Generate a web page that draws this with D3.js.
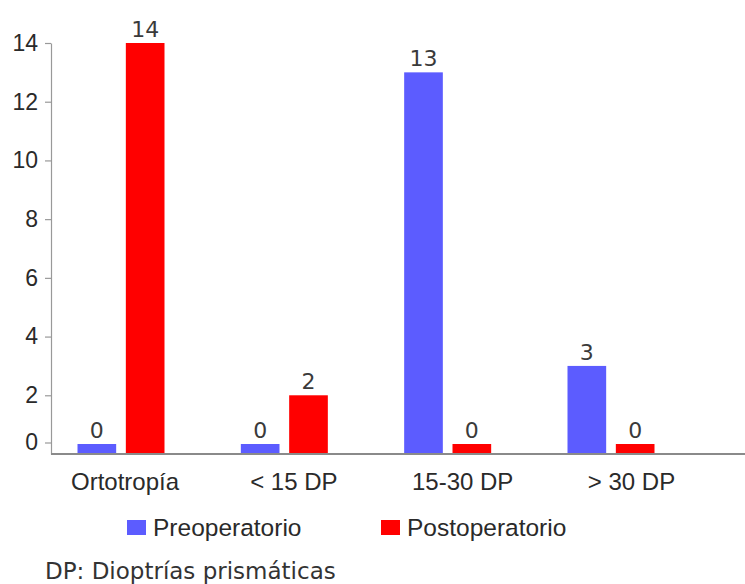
<!DOCTYPE html>
<html>
<head>
<meta charset="utf-8">
<script src="https://cdn.jsdelivr.net/npm/d3@7"></script>
<style>
  html, body { margin: 0; padding: 0; background: #fff; }
  svg { display: block; }
</style>
</head>
<body>
<svg id="chart" width="745" height="584"></svg>
<script>
// ---- data ----
const categories = ["Ortotropía", "< 15 DP", "15-30 DP", "> 30 DP"];
const seriesNames = ["Preoperatorio", "Postoperatorio"];
const preoperatorio = [0, 0, 13, 3];
const postoperatorio = [14, 2, 0, 0];
const yTicks = [0, 2, 4, 6, 8, 10, 12, 14];
const footnote = "DP: Dioptrías prismáticas";

const colors = { "Preoperatorio": "#5c5cff", "Postoperatorio": "#ff0000" };
const seriesValues = { "Preoperatorio": preoperatorio, "Postoperatorio": postoperatorio };

const svg = d3.select("#chart");

const y = d3.scaleLinear().domain([0, 14]).range([454, 43]);
const axisX = 51;
const minBarH = 10;   // zero-valued bars are drawn with a small stub
const zeroTickShift = -11;

const xGroup = d3.scalePoint().domain(categories).range([121, 611]);
const xLabel = d3.scalePoint().domain(categories).range([125, 631.5]);
const xSeries = d3.scaleBand().domain(seriesNames).range([-43.5, 43.5]).paddingInner(0.2);

// y axis
const yAxis = d3.axisLeft(y).tickValues(yTicks).tickSize(6).tickSizeOuter(0).tickFormat(d3.format("d"));
const gy = svg.append("g").attr("transform", `translate(${axisX},0)`).call(yAxis);
gy.select(".domain").attr("stroke", "#999").attr("stroke-width", 1.2);
gy.selectAll(".tick line").attr("stroke", "#999").attr("stroke-width", 1.2);
gy.selectAll(".tick text")
  .attr("x", -13)
  .attr("fill", "#2a2a2a")
  .style("font-family", "'Liberation Sans', Arial, sans-serif")
  .style("font-size", "23px");
gy.selectAll(".tick").filter(d => d === 0)
  .attr("transform", `translate(0,${y(0) + zeroTickShift})`);

// x axis baseline
svg.append("line")
  .attr("x1", axisX).attr("x2", 745)
  .attr("y1", y(0)).attr("y2", y(0))
  .attr("stroke", "#8a8a8a").attr("stroke-width", 2);

// bars
const barData = [];
categories.forEach((c, i) => {
  seriesNames.forEach(s => barData.push({ cat: c, series: s, value: seriesValues[s][i] }));
});
const barTop = d => Math.min(y(d.value), y(0) - minBarH);

svg.append("g").selectAll("rect").data(barData).join("rect")
  .attr("x", d => xGroup(d.cat) + xSeries(d.series))
  .attr("width", xSeries.bandwidth())
  .attr("y", d => barTop(d))
  .attr("height", d => y(0) - 1 - barTop(d))
  .attr("fill", d => colors[d.series]);

// value labels
svg.append("g").selectAll("text").data(barData).join("text")
  .attr("x", d => xGroup(d.cat) + xSeries(d.series) + xSeries.bandwidth() / 2)
  .attr("y", d => barTop(d) - 6)
  .attr("text-anchor", "middle")
  .attr("fill", "#3a3a3a")
  .style("font-family", "'DejaVu Sans', Verdana, sans-serif")
  .style("font-size", "22px")
  .text(d => d.value);

// category labels
svg.append("g").selectAll("text").data(categories).join("text")
  .attr("x", d => xLabel(d))
  .attr("y", 490)
  .attr("text-anchor", "middle")
  .attr("fill", "#2a2a2a")
  .style("font-family", "'Liberation Sans', Arial, sans-serif")
  .style("font-size", "24px")
  .text(d => d);

// legend
const legendX = d3.scalePoint().domain(seriesNames).range([127, 381]);
const lg = svg.append("g").selectAll("g").data(seriesNames).join("g")
  .attr("transform", d => `translate(${legendX(d)},520)`);
lg.append("rect").attr("width", 19).attr("height", 15).attr("fill", d => colors[d]);
lg.append("text")
  .attr("x", 26).attr("y", 16)
  .attr("fill", "#2a2a2a")
  .style("font-family", "'Liberation Sans', Arial, sans-serif")
  .style("font-size", "24.5px")
  .text(d => d);

// footnote
svg.append("text")
  .attr("x", 45).attr("y", 579)
  .attr("fill", "#333")
  .style("font-family", "'DejaVu Sans', Verdana, sans-serif")
  .style("font-size", "23px")
  .text(footnote);
</script>
</body>
</html>
